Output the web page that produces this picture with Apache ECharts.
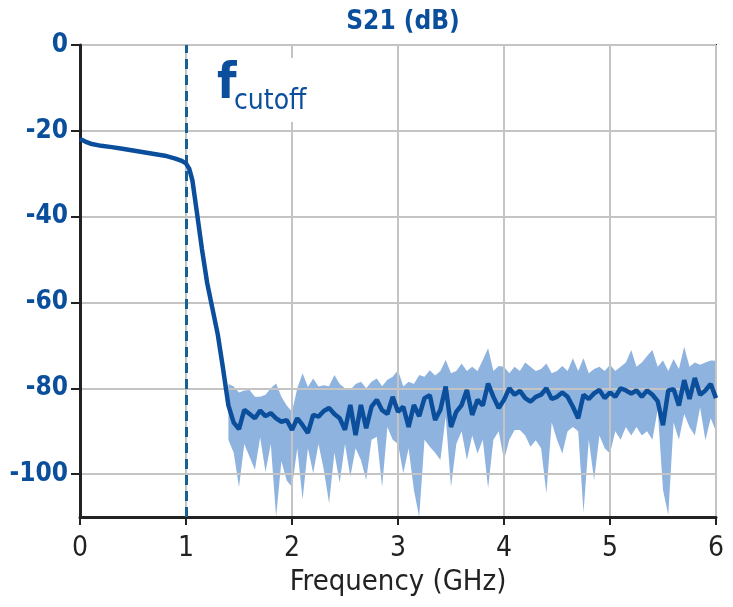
<!DOCTYPE html>
<html>
<head>
<meta charset="utf-8">
<script src="https://cdn.jsdelivr.net/npm/echarts@6/dist/echarts.min.js"></script>
<style>
  html, body { margin: 0; padding: 0; background: #fff; }
  #chart { width: 733px; height: 607px; }
</style>
</head>
<body>
<div id="chart"></div>
<script>
// passband + roll-off (GHz, dB)
var passFreq = [0, 0.05, 0.1, 0.2, 0.3, 0.4, 0.5, 0.6, 0.7, 0.8, 0.9, 0.96, 1.0, 1.03, 1.06, 1.1, 1.15, 1.2, 1.25, 1.3, 1.35];
var passS21 = [-21.9, -22.5, -23.0, -23.5, -23.8, -24.2, -24.6, -25.0, -25.4, -25.8, -26.5, -27.0, -27.6, -28.8, -31.5, -38.5, -47.5, -55.5, -61.5, -67.5, -75.5];

// stopband samples
var stopFreq = [1.40, 1.45, 1.50, 1.55, 1.60, 1.65, 1.70, 1.75, 1.80, 1.85, 1.90, 1.95,
  2.00, 2.05, 2.10, 2.15, 2.20, 2.25, 2.30, 2.35, 2.40, 2.45, 2.50, 2.55, 2.60, 2.65, 2.70, 2.75, 2.80, 2.85, 2.90, 2.95,
  3.00, 3.05, 3.10, 3.15, 3.20, 3.25, 3.30, 3.35, 3.40, 3.45, 3.50, 3.55, 3.60, 3.65, 3.70, 3.75, 3.80, 3.85, 3.90, 3.95,
  4.00, 4.05, 4.10, 4.15, 4.20, 4.25, 4.30, 4.35, 4.40, 4.45, 4.50, 4.55, 4.60, 4.65, 4.70, 4.75, 4.80, 4.85, 4.90, 4.95,
  5.00, 5.05, 5.10, 5.15, 5.20, 5.25, 5.30, 5.35, 5.40, 5.45, 5.50, 5.55, 5.60, 5.65, 5.70, 5.75, 5.80, 5.85, 5.90, 5.95, 6.00];
var stopMean = [-84, -88, -89.5, -85, -86, -87, -85.2, -86.5, -85.8, -87, -87.8, -87.4,
  -89.7, -87, -88.6, -90.4, -86.2, -86.6, -85.3, -84.6, -86, -87, -89.7, -83.9, -90.9, -83.9, -89.3, -84.3, -82.7, -85.1, -86, -82,
  -85.5, -84.3, -89, -83.9, -86.5, -82.3, -81.6, -87.4, -85, -79.6, -89, -85.5, -83.9, -80.4, -86.2, -82.7, -84, -78.9, -82, -84.6,
  -82.7, -80, -81.5, -80.6, -82.3, -83.1, -82, -81.5, -80, -82.5, -82, -81, -82, -84.3, -87, -81.5, -82.5, -81.2, -80.4, -82.3,
  -81, -82, -80, -80.5, -81.2, -80.5, -82, -80.5, -81.5, -83, -88.6, -80.5, -80.2, -84, -78.1, -82.5, -77.6, -81.5, -80.5, -79, -82.3];
var stopUpper = [-79, -79.6, -81, -80.5, -80.4, -82, -82, -81.5, -80, -78.9, -82, -84,
  -85.5, -80, -76.5, -79.7, -77.7, -79.6, -79.3, -79.5, -76.9, -79, -80, -80.4, -79, -78.5, -80, -78.5, -77.7, -79.5, -78, -77.3,
  -75.8, -79.6, -78.5, -79, -76.9, -77.3, -75.8, -77, -76, -73.4, -76.5, -76, -74.2, -76, -75, -76, -73.4, -70.7, -76, -74.8,
  -75, -76.5, -75, -76, -74, -75, -76, -75.5, -74.2, -76.5, -76, -74.8, -76, -73, -76, -73, -76.5, -75.5, -75, -76,
  -74.5, -76, -75, -74, -71.1, -75, -74, -72.5, -71.1, -75, -73.5, -76, -73.2, -75.5, -70.3, -75, -74, -74.5, -74, -73.5, -73.6];
var stopLower = [-92, -95, -103, -93, -96, -99, -91.5, -99.5, -93, -110, -97, -101.5,
  -103, -94, -106, -94, -99.8, -93, -99, -106.8, -95, -102, -93, -100.6, -94, -96.7, -101.4, -92, -91.3, -103, -89, -92,
  -93, -99.8, -94, -103.7, -110, -92, -93.6, -95, -96.7, -86.6, -103, -93, -90, -96.7, -91, -95.2, -92, -103.3, -92, -90,
  -96.7, -92, -89.7, -89.7, -91, -93.6, -92.1, -94, -104.5, -88, -92, -95.2, -90, -89, -90, -109, -92, -101.4, -91, -94,
  -95.2, -90, -92, -89, -91, -89, -91, -90, -92, -85, -103.7, -109.6, -88, -92, -86, -89, -91, -84.5, -92.1, -87, -90];

var yTicks = [0, -20, -40, -60, -80, -100];
var cutoffFreq = 1;

var mainLine = [];
for (var i = 0; i < passFreq.length; i++) mainLine.push([passFreq[i], passS21[i]]);
for (var j = 0; j < stopFreq.length; j++) mainLine.push([stopFreq[j], stopMean[j]]);

var blue = '#0b4f9c';
var chart = echarts.init(document.getElementById('chart'));

// min/max envelope as one polygon
function renderBand(params, api) {
  var pts = [];
  for (var k = 0; k < stopFreq.length; k++) pts.push(api.coord([stopFreq[k], stopUpper[k]]));
  for (var m = stopFreq.length - 1; m >= 0; m--) pts.push(api.coord([stopFreq[m], stopLower[m]]));
  return {
    type: 'polygon',
    shape: { points: pts },
    style: { fill: '#8fb3df' },
    clipPath: {
      type: 'rect',
      shape: { x: params.coordSys.x, y: params.coordSys.y, width: params.coordSys.width, height: params.coordSys.height }
    }
  };
}

var option = {
  animation: false,
  title: {
    text: 'S21 (dB)',
    left: 398, top: 4, textAlign: 'center',
    textStyle: { color: blue, fontSize: 26, fontWeight: 'bold', fontFamily: 'DejaVu Sans Condensed' }
  },
  grid: {
    left: 80, right: 17, top: 45, bottom: 90,
    show: true, borderColor: '#222', borderWidth: 2
  },
  xAxis: {
    type: 'value', min: 0, max: 6, interval: 1, z: 3,
    name: 'Frequency (GHz)', nameLocation: 'middle', nameGap: 48,
    nameTextStyle: { color: '#222', fontSize: 29, fontFamily: 'DejaVu Sans Condensed' },
    axisLine: { show: true, onZero: false, lineStyle: { color: '#222', width: 3 } },
    axisTick: { show: true, length: 8, lineStyle: { color: '#222', width: 2 } },
    axisLabel: { color: '#222', fontSize: 28, fontFamily: 'DejaVu Sans Condensed', margin: 18 },
    splitLine: { show: true, lineStyle: { color: '#c4c4c4', width: 2 } }
  },
  yAxis: {
    type: 'value', min: -110, max: 0, z: 3,
    axisLine: { show: true, onZero: false, lineStyle: { color: '#222', width: 3 } },
    axisTick: { show: true, length: 9, customValues: yTicks, lineStyle: { color: '#222', width: 2 } },
    axisLabel: { color: blue, fontSize: 26, fontWeight: 'bold', fontFamily: 'DejaVu Sans Condensed', margin: 12, customValues: yTicks },
    splitLine: { show: true, lineStyle: { color: '#c4c4c4', width: 2 } }
  },
  graphic: [
    { type: 'text', left: 232, top: 58, z: 9,
      style: { text: 'cutoff', fill: blue, fontSize: 28, fontFamily: 'DejaVu Sans Condensed',
               backgroundColor: '#fff', padding: [30, 2, 6, 2] } },
    { type: 'text', left: 217, top: 60, z: 10,
      style: { text: 'f', fill: blue, fontSize: 50, fontWeight: 'bold', fontFamily: 'DejaVu Sans Condensed' } }
  ],
  series: [
    {
      type: 'custom', renderItem: renderBand, data: [0], z: 2, silent: true
    },
    {
      type: 'line', data: mainLine, symbol: 'none', z: 5,
      lineStyle: { color: blue, width: 4.5 },
      markLine: {
        silent: true, symbol: 'none', label: { show: false },
        lineStyle: { color: '#1a5f92', width: 3, type: [10, 6] },
        data: [{ xAxis: cutoffFreq }]
      }
    }
  ]
};

chart.setOption(option);
</script>
</body>
</html>
